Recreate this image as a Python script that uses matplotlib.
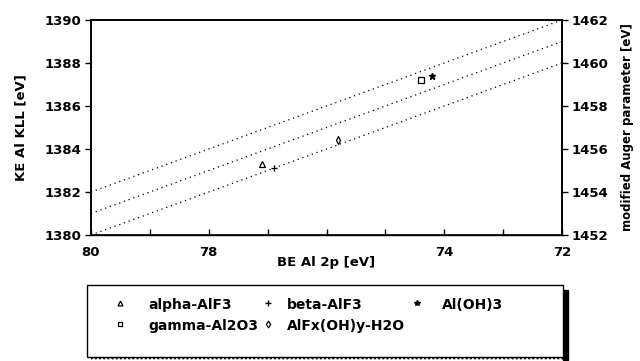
import matplotlib
matplotlib.use("Agg")
import matplotlib.pyplot as plt
from matplotlib.patches import Rectangle
import numpy as np

plt.rcParams['font.family'] = ['DejaVu Sans']
plt.rcParams['font.weight'] = 'bold'

# Data
names = ["alpha-AlF3", "beta-AlF3", "Al(OH)3", "gamma-Al2O3", "AlFx(OH)y-H2O"]
be = [77.09, 76.89, 74.21, 74.40, 75.81]
ke = [1383.3, 1383.1, 1387.4, 1387.2, 1384.4]
markers = ["^", "+", "*", "s", "d"]
auger_lines = [1462, 1461, 1460]
x_ticks = [80, 79, 78, 77, 76, 75, 74, 73, 72]
x_labels = ["80", "", "78", "", "", "", "74", "", "72"]
y_ticks = [1380, 1382, 1384, 1386, 1388, 1390]
y2_ticks = [1452, 1454, 1456, 1458, 1460, 1462]

FS = 9.5

fig = plt.figure(figsize=(6.4, 3.61), dpi=100)
ax = fig.add_axes([91/640, 1-235/361, (562-91)/640, (235-20)/361])

bex = np.array([80, 72])
for a in auger_lines:
    ax.plot(bex, a - bex, color='black', linestyle=(0, (1, 3)), linewidth=0.9)

for b, k, m in zip(be, ke, markers):
    if m == "+":
        ax.plot(b, k, marker=m, color='black', markersize=5, markeredgewidth=0.9, linestyle='none')
    elif m == "*":
        ax.plot(b, k, marker=m, color='black', markersize=5, linestyle='none')
    else:
        ax.plot(b, k, marker=m, markerfacecolor='white', markeredgecolor='black',
                markersize=4, markeredgewidth=0.9, linestyle='none')

ax.set_xlim(80, 72)
ax.set_ylim(1380, 1390)
ax.set_xticks(x_ticks)
ax.set_xticklabels(x_labels)
ax.set_yticks(y_ticks)
ax.tick_params(axis='x', direction='in', length=4, width=1, labelsize=FS, pad=8)
ax.tick_params(axis='y', direction='out', length=4, width=1, labelsize=FS, pad=3)
for s in ax.spines.values():
    s.set_linewidth(1.2)
ax.spines['bottom'].set_linewidth(1.0)
ax.set_ylabel("KE Al KLL [eV]", fontsize=FS, fontweight='bold', labelpad=12)
ax.text(76.0, -0.13, "BE Al 2p [eV]", transform=ax.get_xaxis_transform(),
        ha='center', va='center', fontsize=FS, fontweight='bold')

ax2 = ax.twinx()
ax2.set_ylim(1452, 1462)
ax2.set_yticks(y2_ticks)
ax2.tick_params(axis='y', direction='out', length=4, width=1, labelsize=FS, pad=3)
ax2.set_ylabel("modified Auger parameter [eV]", fontsize=8.5, fontweight='bold', labelpad=9)
for s in ax2.spines.values():
    s.set_linewidth(1.2)

# Legend box
lx0, lx1, ly0, ly1 = 87, 563, 285, 357
lax = fig.add_axes([0, 0, 1, 1], zorder=5)
lax.set_xlim(0, 640)
lax.set_ylim(361, 0)
lax.axis('off')
lax.add_patch(Rectangle((lx0 + 4, ly1), lx1 - lx0, 3, facecolor='none', edgecolor='black',
                        hatch='....', linewidth=0))
lax.add_patch(Rectangle((lx1, ly0 + 5), 5, ly1 - ly0 - 2, facecolor='black', edgecolor='black'))
lax.add_patch(Rectangle((lx0, ly0), lx1 - lx0, ly1 - ly0, facecolor='white', edgecolor='black',
                        linewidth=1.0))
pos = [(120, 148, 305), (268, 287, 305), (417, 442, 305), (120, 148, 326), (268, 287, 326)]
for (mx, tx, ty), n, m in zip(pos, names, markers):
    if m in ("+", "*"):
        lax.plot(mx, ty - 2, marker=m, color='black', markersize=4, linestyle='none')
    else:
        lax.plot(mx, ty - 2, marker=m, markerfacecolor='white', markeredgecolor='black',
                 markersize=3.5, markeredgewidth=0.9, linestyle='none')
    lax.text(tx, ty, n, ha='left', va='center', fontsize=10, fontweight='bold')

fig.savefig("out.png", dpi=100)
